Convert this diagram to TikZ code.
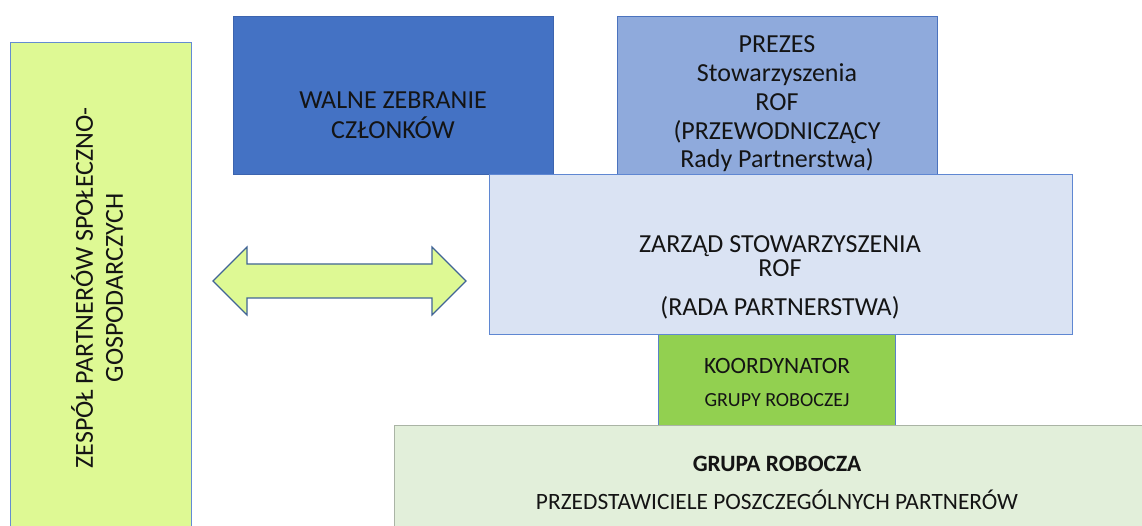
\documentclass[tikz,border=0pt]{standalone}
\usepackage{fontspec}
\setmainfont{Carlito}
\usetikzlibrary{positioning,calc}

\definecolor{zespfill}{RGB}{222,249,148}
\definecolor{zespline}{RGB}{100,140,210}
\definecolor{walnefill}{RGB}{68,114,196}
\definecolor{walneline}{RGB}{60,100,175}
\definecolor{prezesfill}{RGB}{143,170,220}
\definecolor{prezesline}{RGB}{75,115,190}
\definecolor{zarzadfill}{RGB}{218,227,243}
\definecolor{zarzadline}{RGB}{95,135,210}
\definecolor{koordfill}{RGB}{146,208,80}
\definecolor{koordline}{RGB}{90,130,200}
\definecolor{grupafill}{RGB}{226,239,218}
\definecolor{grupaline}{RGB}{170,180,165}
\definecolor{arrline}{RGB}{65,100,150}
\definecolor{textgray}{RGB}{20,20,20}

\begin{document}
\begin{tikzpicture}[x=1pt,y=-1pt,
    box/.style={draw, rectangle, inner sep=0pt, outer sep=0pt, line width=1pt, anchor=north west},
    txt/.style={align=center, inner sep=0pt, text=textgray, font=\fontsize{26}{28.7}\selectfont},
    dblarrow/.style={fill=zespfill, draw=arrline, line width=1.2pt, line join=miter}]
    \useasboundingbox (0,0) rectangle (1142,526);

    % boxes
    \node[box, fill=zespfill, draw=zespline, minimum width=181pt, minimum height=500pt] (zespol) at (10,43) {};
    \node[box, fill=walnefill, draw=walneline, minimum width=320pt, minimum height=158pt] (walne) at (233,17) {};
    \node[box, fill=prezesfill, draw=prezesline, minimum width=320pt, minimum height=158pt] (prezes) at (617,17) {};
    \node[box, fill=koordfill, draw=koordline, minimum width=237pt, minimum height=91pt] (koord) at (658,334) {};
    \node[box, fill=zarzadfill, draw=zarzadline, minimum width=583pt, minimum height=159pt] (zarzad) at (489,175) {};
    \node[box, fill=grupafill, draw=grupaline, minimum width=760pt, minimum height=110pt] (grupa) at (394,425) {};

    % texts
    \node[txt, rotate=90, font=\fontsize{26}{30}\selectfont] (zespol-t) at (97,288) {ZESPÓŁ PARTNERÓW SPOŁECZNO-\\GOSPODARCZYCH};
    \node[txt, font=\fontsize{26}{30}\selectfont] (walne-t) at (393,115) {WALNE ZEBRANIE\\CZŁONKÓW};
    \node[txt] (prezes-t) at (777,104) {PREZES\\Stowarzyszenia\\ROF\\(PRZEWODNICZĄCY\\Rady Partnerstwa)};
    \node[txt, font=\fontsize{26}{24.5}\selectfont] (zarzad-t) at (780,277) {ZARZĄD STOWARZYSZENIA\\ROF\\[14pt](RADA PARTNERSTWA)};
    \node[txt, font=\fontsize{23.4}{26}\selectfont] (koord-t) at (777,366) {KOORDYNATOR};
    \node[txt, font=\fontsize{20}{22}\selectfont] (koord-t2) at (777,400) {GRUPY ROBOCZEJ};
    \node[txt, font=\bfseries\fontsize{23.4}{26}\selectfont] (grupa-t) at (777,464) {GRUPA ROBOCZA};
    \node[txt, font=\fontsize{23.4}{26}\selectfont] (grupa-t2) at (777,500) {PRZEDSTAWICIELE POSZCZEGÓLNYCH PARTNERÓW};

    % double arrow
    \coordinate (arrL) at (213,281);
    \coordinate (arrR) at (466,281);
    \draw[dblarrow] (arrL) -- ++(34,-34) -- ++(0,17) -- ($(arrR)+(-34,-17)$) -- ++(0,-17) -- (arrR)
        -- ++(-34,34) -- ++(0,-17) -- ($(arrL)+(34,17)$) -- ++(0,17) -- cycle;
\end{tikzpicture}
\end{document}
